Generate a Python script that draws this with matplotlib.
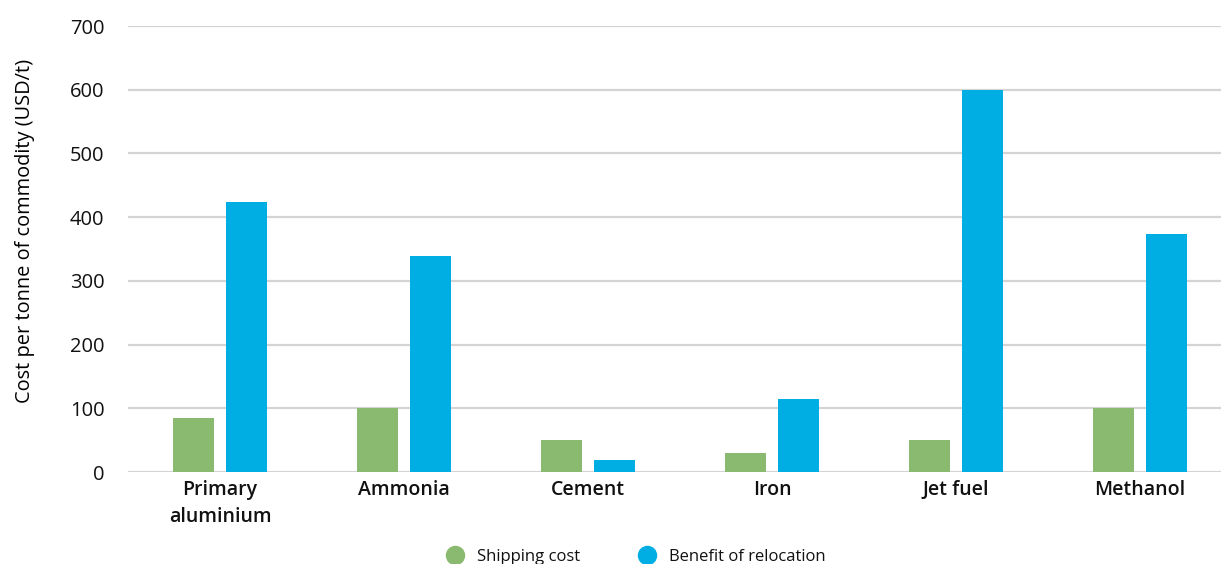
import numpy as np
import matplotlib.pyplot as plt
from matplotlib.lines import Line2D

plt.rcParams['font.family'] = ['Open Sans', 'DejaVu Sans']
plt.rcParams['text.color'] = '#111111'

categories = ['Primary\naluminium', 'Ammonia', 'Cement', 'Iron', 'Jet fuel', 'Methanol']
shipping_cost = [85, 100, 50, 30, 50, 100]
benefit_relocation = [424, 339, 19, 115, 600, 374]

green = '#8aba6f'
blue = '#00aee4'

fig = plt.figure(figsize=(12.21, 5.64), dpi=100)
ax = fig.add_axes([128 / 1221, 92 / 564, 1 - 128 / 1221, 446 / 564])

x = np.arange(len(categories))
w = 0.225
ax.bar(x - 0.143, shipping_cost, w, color=green, zorder=3)
ax.bar(x + 0.143, benefit_relocation, w, color=blue, zorder=3)

ax.set_xlim(-0.5, -0.5 + 1093 / 184)
ax.set_ylim(0, 700)
ax.set_yticks(range(0, 701, 100))
ax.set_xticks(x)
ax.set_xticklabels(categories, fontsize=14, fontweight='semibold', linespacing=1.45)
ax.tick_params(axis='y', labelsize=14.5, length=0, pad=17, labelcolor='#111111')
ax.tick_params(axis='x', length=0, pad=6, labelcolor='#111111')
ax.yaxis.grid(True, color='#d4d4d4', linewidth=1.6, zorder=0)
for s in ax.spines.values():
    s.set_visible(False)

ax.set_ylabel('Cost per tonne of commodity (USD/t)', fontsize=14.4)
ax.yaxis.set_label_coords(-0.085, 0.54)

handles = [
    Line2D([], [], marker='o', linestyle='', markersize=13, color=green, label='Shipping cost'),
    Line2D([], [], marker='o', linestyle='', markersize=13, color=blue, label='Benefit of relocation'),
]
fig.legend(handles=handles, loc='center', bbox_to_anchor=(632 / 1221, 1 - 557 / 564),
           ncol=2, frameon=False, fontsize=12, handletextpad=0.3, columnspacing=3.0)

fig.savefig('out.png', dpi=100)
